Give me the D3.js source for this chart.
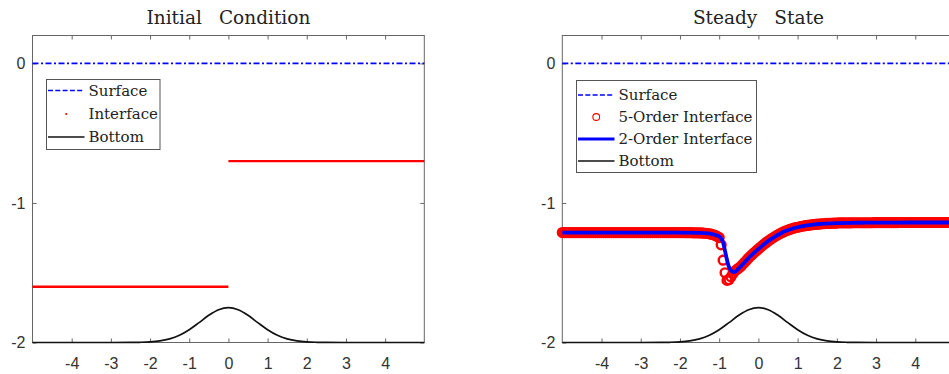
<!DOCTYPE html>
<html>
<head>
<meta charset="utf-8">
<script src="https://cdn.jsdelivr.net/npm/d3@7"></script>
<style>
    html, body { margin: 0; padding: 0; background: #fff; }
    svg { display: block; }
    .tick text { font-family: "Liberation Sans", Arial, sans-serif; font-size: 16px; fill: #333; }
    .tick line { stroke: #666; }
    .title { font-family: "DejaVu Serif", serif; font-size: 18.5px; fill: #222; }
    .leg text { font-family: "DejaVu Serif", serif; font-size: 15px; fill: #222; }
</style>
</head>
<body>
<svg id="chart" width="949" height="374"></svg>
<script>
// Two panels: initial condition vs steady state of a two-layer flow over a bump

const X_DOMAIN = [-5, 5];
const Y_DOMAIN = [-2, 0.2];
const X_TICKS = [-4, -3, -2, -1, 0, 1, 2, 3, 4];
const Y_TICKS = [-2, -1, 0];

// free surface
const surfaceX = [-5, 5];
const surfaceY = [0, 0];

// bottom topography
const bottomX = [-5, -4, -3, -2.5, -2.25, -2, -1.75, -1.5, -1.25, -1, -0.75, -0.5, -0.25, 0,
    0.25, 0.5, 0.75, 1, 1.25, 1.5, 1.75, 2, 2.25, 2.5, 3, 4, 5];
const bottomY = [-2, -2, -2, -1.9995, -1.9984, -1.9954, -1.9884, -1.9737, -1.9477, -1.908, -1.8577, -1.8053, -1.7652, -1.75,
    -1.7652, -1.8053, -1.8577, -1.908, -1.9477, -1.9737, -1.9884, -1.9954, -1.9984, -1.9995, -2, -2, -2];

// initial interface: piecewise constant
const initEdges = [-5, 0, 5];
const initLevels = [-1.6, -0.7];

// steady state, 5-order scheme, on the x mesh -5:0.05:5
const order5Y = [
    -1.212, -1.212, -1.212, -1.212, -1.212, -1.212, -1.212, -1.212, -1.212, -1.212,
    -1.212, -1.212, -1.212, -1.212, -1.212, -1.212, -1.212, -1.212, -1.212, -1.212,
    -1.212, -1.212, -1.212, -1.212, -1.212, -1.212, -1.212, -1.212, -1.212, -1.212,
    -1.212, -1.212, -1.212, -1.212, -1.212, -1.212, -1.212, -1.212, -1.212, -1.212,
    -1.212, -1.212, -1.212, -1.212, -1.212, -1.212, -1.212, -1.212, -1.212, -1.212,
    -1.212, -1.212, -1.212, -1.212, -1.212, -1.212, -1.212, -1.212, -1.212, -1.212,
    -1.212, -1.212, -1.212, -1.213, -1.213, -1.213, -1.213, -1.214, -1.214, -1.214,
    -1.215, -1.215, -1.216, -1.217, -1.219, -1.221, -1.224, -1.228, -1.233, -1.240,
    -1.248, -1.300, -1.410, -1.500, -1.555, -1.550, -1.530, -1.505, -1.488, -1.477,
    -1.466, -1.455, -1.440, -1.425, -1.410, -1.395, -1.380, -1.367, -1.354, -1.342,
    -1.330, -1.318, -1.306, -1.294, -1.283, -1.273, -1.263, -1.254, -1.245, -1.236,
    -1.228, -1.220, -1.213, -1.206, -1.200, -1.195, -1.190, -1.185, -1.181, -1.177,
    -1.174, -1.171, -1.168, -1.165, -1.163, -1.161, -1.159, -1.157, -1.155, -1.154,
    -1.152, -1.151, -1.150, -1.149, -1.148, -1.147, -1.146, -1.146, -1.145, -1.145,
    -1.144, -1.143, -1.143, -1.143, -1.143, -1.143, -1.143, -1.143, -1.142, -1.142,
    -1.142, -1.142, -1.142, -1.142, -1.142, -1.142, -1.142, -1.142, -1.142, -1.141,
    -1.141, -1.141, -1.141, -1.141, -1.141, -1.141, -1.141, -1.141, -1.141, -1.141,
    -1.141, -1.141, -1.140, -1.140, -1.140, -1.140, -1.140, -1.140, -1.140, -1.140,
    -1.140, -1.140, -1.140, -1.140, -1.140, -1.140, -1.140, -1.140, -1.140, -1.140,
    -1.140, -1.140, -1.140, -1.140, -1.140, -1.140, -1.140, -1.140, -1.140, -1.140,
    -1.140
];
const order5X = order5Y.map((d, i) => -5 + i * 0.05);

// steady state, 2-order scheme
const order2X = [-5, -2, -1.5, -1.3, -1.2, -1.1, -1.0, -0.95, -0.9, -0.85, -0.8, -0.75, -0.7, -0.64, -0.58,
    -0.5, -0.4, -0.3, -0.2, -0.1, 0, 0.1, 0.2, 0.3, 0.4, 0.5, 0.6, 0.7, 0.8, 0.9, 1.0,
    1.2, 1.4, 1.6, 1.8, 2.0, 2.5, 3, 4, 5];
const order2Y = [-1.212, -1.212, -1.214, -1.218, -1.222, -1.23, -1.24, -1.255, -1.285, -1.345, -1.41, -1.46, -1.483, -1.495, -1.49,
    -1.468, -1.44, -1.41, -1.38, -1.354, -1.33, -1.306, -1.283, -1.263, -1.245, -1.228, -1.213, -1.2, -1.19, -1.181, -1.174,
    -1.163, -1.155, -1.15, -1.146, -1.144, -1.142, -1.141, -1.14, -1.14];

const svg = d3.select("#chart");
const BLUE = "#0000ff", RED = "#ff0000", BLACK = "#111";
const SURFACE_DASH = "6,2.5,2,2.5";

function makePanel(left, right) {
    const x = d3.scaleLinear().domain(X_DOMAIN).range([left, right]);
    const y = d3.scaleLinear().domain(Y_DOMAIN).range([342.5, 35.5]);
    return { x, y };
}

function drawAxes(p, title1, title2, gap) {
    const { x, y } = p;
    const g = svg.append("g");
    const fmt = d => String(d);

    g.append("g").attr("transform", `translate(0,${y(-2)})`)
        .call(d3.axisBottom(x).tickValues(X_TICKS).tickSize(-4).tickPadding(15).tickFormat(fmt))
        .call(a => a.select(".domain").remove());
    g.append("g").attr("transform", `translate(0,${y(0.2)})`)
        .call(d3.axisTop(x).tickValues(X_TICKS).tickSize(-4).tickFormat(""))
        .call(a => a.select(".domain").remove());
    g.append("g").attr("transform", `translate(${x(-5)},0)`)
        .call(d3.axisLeft(y).tickValues(Y_TICKS).tickSize(-4).tickPadding(7).tickFormat(fmt))
        .call(a => a.select(".domain").remove());
    g.append("g").attr("transform", `translate(${x(5)},0)`)
        .call(d3.axisRight(y).tickValues(Y_TICKS).tickSize(-4).tickFormat(""))
        .call(a => a.select(".domain").remove());
    g.selectAll(".tick text").attr("fill", "#333");

    g.append("rect")
        .attr("x", x(-5)).attr("y", y(0.2))
        .attr("width", x(5) - x(-5)).attr("height", y(-2) - y(0.2))
        .attr("fill", "none").attr("stroke", "#666").attr("stroke-width", 1);

    const t = g.append("text").attr("class", "title")
        .attr("x", x(0)).attr("y", 24).attr("text-anchor", "middle");
    t.append("tspan").text(title1);
    t.append("tspan").attr("dx", gap).text(title2);
}

function drawSurface(p) {
    svg.append("path")
        .datum(surfaceX.map((d, i) => [d, surfaceY[i]]))
        .attr("d", d3.line().x(d => p.x(d[0])).y(d => p.y(d[1])))
        .attr("fill", "none").attr("stroke", BLUE).attr("stroke-width", 1.6)
        .attr("stroke-dasharray", SURFACE_DASH);
}

function drawBottom(p) {
    svg.append("path")
        .datum(bottomX.map((d, i) => [d, bottomY[i]]))
        .attr("d", d3.line().x(d => p.x(d[0])).y(d => p.y(d[1])).curve(d3.curveCatmullRom))
        .attr("fill", "none").attr("stroke", BLACK).attr("stroke-width", 1.7);
}

function drawLegend(x0, y0, w, h, rows) {
    const g = svg.append("g").attr("class", "leg");
    g.append("rect").attr("x", x0).attr("y", y0).attr("width", w).attr("height", h)
        .attr("fill", "#fff").attr("stroke", "#555").attr("stroke-width", 1);
    rows.forEach(r => {
        const sx0 = x0 + 1.5, sx1 = x0 + 38;
        if (r.kind === "dash") {
            g.append("line").attr("x1", sx0).attr("x2", sx1).attr("y1", r.y).attr("y2", r.y)
                .attr("stroke", BLUE).attr("stroke-width", 1.6).attr("stroke-dasharray", "5,2.3");
        } else if (r.kind === "line") {
            g.append("line").attr("x1", sx0).attr("x2", sx1).attr("y1", r.y).attr("y2", r.y)
                .attr("stroke", r.color).attr("stroke-width", r.width);
        } else if (r.kind === "dot") {
            g.append("circle").attr("cx", (sx0 + sx1) / 2).attr("cy", r.y).attr("r", 1.1)
                .attr("fill", RED);
        } else if (r.kind === "circle") {
            g.append("circle").attr("cx", (sx0 + sx1) / 2).attr("cy", r.y).attr("r", 3.4)
                .attr("fill", "none").attr("stroke", RED).attr("stroke-width", 1.1);
        }
        g.append("text").attr("x", x0 + 42).attr("y", r.y).attr("dy", "0.35em").text(r.label);
    });
}

// ---- left: initial condition ----
const pL = makePanel(32.5, 424.3);
drawAxes(pL, "Initial", "Condition", 17);
drawSurface(pL);
initLevels.forEach((lv, i) => {
    svg.append("line")
        .attr("x1", pL.x(initEdges[i])).attr("x2", pL.x(initEdges[i + 1]))
        .attr("y1", pL.y(lv)).attr("y2", pL.y(lv))
        .attr("stroke", RED).attr("stroke-width", 2.4);
});
drawBottom(pL);
drawLegend(46.5, 79.5, 113.5, 70, [
    { kind: "dash", label: "Surface", y: 90.5 },
    { kind: "dot", label: "Interface", y: 114 },
    { kind: "line", label: "Bottom", color: BLACK, width: 1.7, y: 137 }
]);

// ---- right: steady state ----
const pR = makePanel(562.3, 954.5);
drawAxes(pR, "Steady", "State", 17);
drawSurface(pR);
svg.append("g").selectAll("circle")
    .data(order5X.map((d, i) => [d, order5Y[i]]))
    .join("circle")
    .attr("cx", d => pR.x(d[0])).attr("cy", d => pR.y(d[1]))
    .attr("r", 4.4)
    .attr("fill", "none").attr("stroke", RED).attr("stroke-width", 2.4);
svg.append("path")
    .datum(order2X.map((d, i) => [d, order2Y[i]]))
    .attr("d", d3.line().x(d => pR.x(d[0])).y(d => pR.y(d[1])).curve(d3.curveMonotoneX))
    .attr("fill", "none").attr("stroke", BLUE).attr("stroke-width", 3.8);
drawBottom(pR);
drawLegend(576.5, 80.5, 180, 92, [
    { kind: "dash", label: "Surface", y: 95 },
    { kind: "circle", label: "5-Order Interface", y: 117 },
    { kind: "line", label: "2-Order Interface", color: BLUE, width: 3, y: 139 },
    { kind: "line", label: "Bottom", color: BLACK, width: 1.7, y: 161 }
]);
</script>
</body>
</html>
